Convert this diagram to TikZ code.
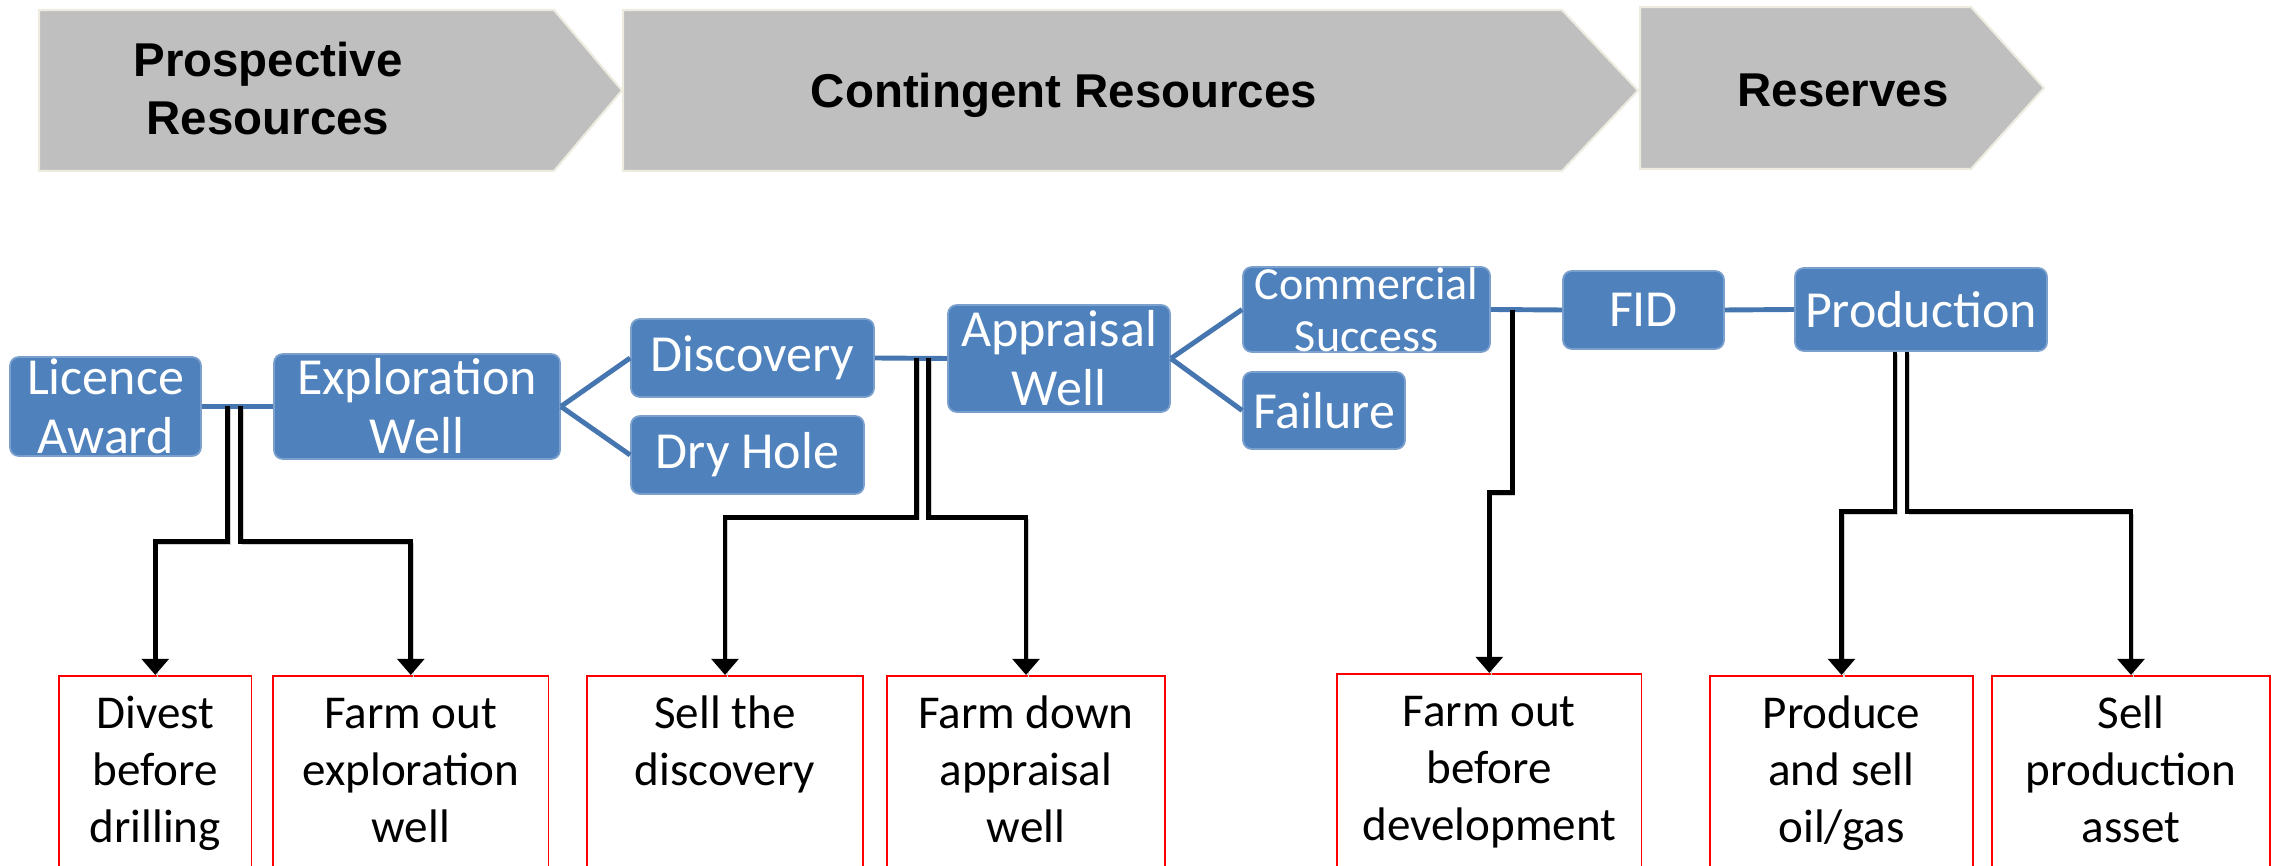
\documentclass[tikz,border=0pt]{standalone}
\usepackage{fontspec}
\setmainfont{Carlito}
\newfontfamily\headfont{Liberation Sans}
\usetikzlibrary{positioning,calc,arrows.meta}

\definecolor{bandgray}{RGB}{191,191,191}
\definecolor{bandedge}{RGB}{238,236,225}
\definecolor{stageblue}{RGB}{79,129,189}
\definecolor{linkblue}{RGB}{70,118,176}

\tikzset{
  band/.style={fill=bandgray, draw=bandedge, line width=0.6pt},
  bandtext/.style={font=\headfont\bfseries\fontsize{13.5}{16.5}\selectfont, align=center},
  stage/.style={rectangle, rounded corners=2.5pt, fill=stageblue, draw=stageblue!75!white,
    line width=0.5pt, text=white, align=center, inner sep=0pt,
    font=\fontsize{14.8}{16.8}\selectfont},
  outcome/.style={rectangle, draw=red, line width=0.5pt, anchor=north,
    minimum height=2.4cm, inner sep=0pt},
  outtext/.style={align=center, inner sep=0pt, outer sep=0pt,
    font=\fontsize{13.4}{16.2}\selectfont},
  link/.style={linkblue, line width=1.4pt},
  branch/.style={line width=1.4pt, -{Triangle[width=7.6pt,length=4.6pt]},
    preaction={draw=black!18, -, transform canvas={shift={(0.7pt,-0.7pt)}}}}
}

\begin{document}
\begin{tikzpicture}
\useasboundingbox (0,0) rectangle (22.77,8.66);
\clip (0,0) rectangle (22.77,8.66);

% resource class bands
\draw[band] (0.39,8.56) -- (5.54,8.56) -- (6.22,7.755) -- (5.54,6.95) -- (0.39,6.95) -- cycle;
\draw[band] (6.23,8.56) -- (15.62,8.56) -- (16.38,7.755) -- (15.62,6.95) -- (6.23,6.95) -- cycle;
\draw[band] (16.40,8.59) -- (19.71,8.59) -- (20.44,7.78) -- (19.71,6.97) -- (16.40,6.97) -- cycle;
\node[bandtext] (prosp) at (2.68,7.77) {Prospective\\Resources};
\node[bandtext, anchor=base] (cont) at (10.64,7.58) {Contingent Resources};
\node[bandtext, anchor=base] (resv) at (18.43,7.59) {Reserves};

% project stages
\node[stage, minimum width=1.91cm, minimum height=0.99cm] (lic) at (1.055,4.595) {Licence\\Award};
\node[stage, minimum width=2.86cm, minimum height=1.05cm] (expl) at (4.17,4.595) {Exploration\\Well};
\node[stage, minimum width=2.43cm, minimum height=0.78cm] (disc) at (7.525,5.08) {Discovery};
\node[stage, minimum width=2.33cm, minimum height=0.78cm] (dry) at (7.475,4.11) {Dry Hole};
\node[stage, minimum width=2.22cm, minimum height=1.07cm] (appr) at (10.59,5.075) {Appraisal\\Well};
\node[stage, minimum width=2.47cm, minimum height=0.85cm,
  font=\fontsize{13.1}{14.8}\selectfont] (comm) at (13.665,5.565) {Commercial\\Success};
\node[stage, minimum width=1.62cm, minimum height=0.77cm] (fail) at (13.24,4.555) {Failure};
\node[stage, minimum width=1.61cm, minimum height=0.78cm] (fid) at (16.435,5.56) {FID};
\node[stage, minimum width=2.52cm, minimum height=0.83cm] (prod) at (19.21,5.565) {Production};

\draw[link] (lic.east) -- (expl.west);
\draw[link] (expl.east) -- (disc.west);
\draw[link] (expl.east) -- (dry.west);
\draw[link] (disc.east) -- (appr.west);
\draw[link] (appr.east) -- (comm.west);
\draw[link] (appr.east) -- (fail.west);
\draw[link] (comm.east) -- (fid.west);
\draw[link] (fid.east) -- (prod.west);

% transaction options
\node[outcome, minimum width=1.925cm] (divest) at (1.5525,1.91) {};
\node[outcome, minimum width=2.756cm] (farmexp) at (4.108,1.91) {};
\node[outcome, minimum width=2.76cm] (selldisc) at (7.25,1.91) {};
\node[outcome, minimum width=2.78cm] (farmdown) at (10.26,1.91) {};
\node[outcome, minimum width=3.046cm] (farmdev) at (14.893,1.93) {};
\node[outcome, minimum width=2.63cm] (produce) at (18.415,1.91) {};
\node[outcome, minimum width=2.78cm] (sellasset) at (21.31,1.91) {};

\node[outtext, below=0.14cm of divest.north] (divest-t) {\strut Divest\\before\\drilling\strut};
\node[outtext, below=0.14cm of farmexp.north] (farmexp-t) {\strut Farm out\\exploration\\well\strut};
\node[outtext, below=0.14cm of selldisc.north] (selldisc-t) {\strut Sell the\\discovery\strut};
\node[outtext, below=0.14cm of farmdown.north] (farmdown-t) {\strut Farm down\\appraisal\\well\strut};
\node[outtext, below=0.14cm of farmdev.north] (farmdev-t) {\strut Farm out\\before\\development\strut};
\node[outtext, below=0.14cm of produce.north] (produce-t) {\strut Produce\\and sell\\oil/gas\strut};
\node[outtext, below=0.14cm of sellasset.north] (sellasset-t) {\strut Sell\\production\\asset\strut};

% branch points
\coordinate (j1) at ($(lic.east)!.45!(expl.west)$);
\coordinate (j2) at ($(disc.east)!.66!(appr.west)$);
\coordinate (j3) at ($(comm.east)!.30!(fid.west)$);
\coordinate (j4) at ([xshift=-0.2cm]prod.south);

\draw[branch] ([xshift=-0.065cm]j1) -- ++(0,-1.35) -| (divest.north);
\draw[branch] ([xshift=0.065cm]j1) -- ++(0,-1.35) -| (farmexp.north);
\draw[branch] ([xshift=-0.06cm]j2) -- ++(0,-1.59) -| (selldisc.north);
\draw[branch] ([xshift=0.06cm]j2) -- ++(0,-1.59) -| (farmdown.north);
\draw[branch] (j3) -- ++(0,-1.83) -| (farmdev.north);
\draw[branch] ([xshift=-0.06cm]j4) -- ++(0,-1.60) -| (produce.north);
\draw[branch] ([xshift=0.06cm]j4) -- ++(0,-1.60) -| (sellasset.north);
\end{tikzpicture}
\end{document}
